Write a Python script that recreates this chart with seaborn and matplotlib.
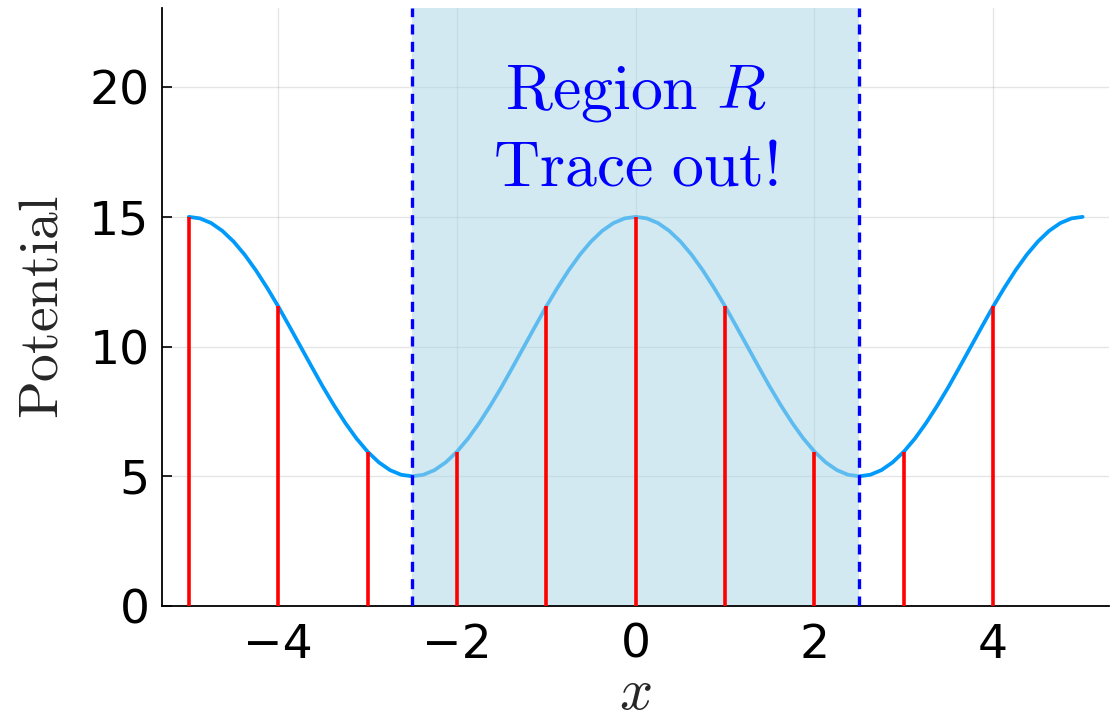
import matplotlib
matplotlib.use("Agg")
import matplotlib.pyplot as plt
import seaborn as sns
import pandas as pd
import numpy as np

# Potential curve sampled every 0.125 in x, from -5 to 5
curve_x = np.linspace(-5.0, 5.0, 81)
curve_v = [15.0, 14.94, 14.76, 14.46, 14.05, 13.54, 12.94, 12.27, 11.55, 10.78,
           10.0, 9.22, 8.45, 7.73, 7.06, 6.46, 5.95, 5.54, 5.24, 5.06, 5.0,
           5.06, 5.24, 5.54, 5.95, 6.46, 7.06, 7.73, 8.45, 9.22, 10.0,
           10.78, 11.55, 12.27, 12.94, 13.54, 14.05, 14.46, 14.76, 14.94, 15.0,
           14.94, 14.76, 14.46, 14.05, 13.54, 12.94, 12.27, 11.55, 10.78, 10.0,
           9.22, 8.45, 7.73, 7.06, 6.46, 5.95, 5.54, 5.24, 5.06, 5.0,
           5.06, 5.24, 5.54, 5.95, 6.46, 7.06, 7.73, 8.45, 9.22, 10.0,
           10.78, 11.55, 12.27, 12.94, 13.54, 14.05, 14.46, 14.76, 14.94, 15.0]

# Sample points (stems)
stem_x = [-5, -4, -3, -2, -1, 0, 1, 2, 3, 4]
stem_v = [15.0, 11.55, 5.95, 5.95, 11.55, 15.0, 11.55, 5.95, 5.95, 11.55]

# Region boundaries
region = [-2.5, 2.5]

x_ticks = [-4, -2, 0, 2, 4]
y_ticks = [0, 5, 10, 15, 20]

sns.set_theme(style="white")
plt.rcParams["mathtext.fontset"] = "cm"
plt.rcParams["font.family"] = ["DejaVu Sans"]
plt.rcParams["axes.unicode_minus"] = True

fig = plt.figure(figsize=(11.12, 7.2), dpi=100)
ax = fig.add_axes([0.1457, 0.1583, 0.852, 0.8306])

df = pd.DataFrame({"x": curve_x, "V": curve_v})
sns.lineplot(data=df, x="x", y="V", color="#009AFA", linewidth=2.7, ax=ax, zorder=2)

ax.axvspan(region[0], region[1], color="lightblue", alpha=0.55, lw=0, zorder=2.5)
ax.vlines(stem_x, 0, stem_v, color="red", linewidth=2.6, zorder=3)
for xb in region:
    ax.axvline(xb, color="blue", linewidth=2.4, linestyle=(0, (3, 2.2)), zorder=3.5)

ax.text(0, 18.35, "$\\mathrm{Region}\\ R$\n$\\mathrm{Trace\\ out!}$",
        color="blue", fontsize=46, ha="center", va="center",
        multialignment="center", linespacing=1.25, zorder=4)

ax.set_xlim(-5.3, 5.3)
ax.set_ylim(0, 23.05)
ax.set_xticks(x_ticks)
ax.set_yticks(y_ticks)
ax.grid(True, color="black", alpha=0.1, linewidth=1)
ax.set_axisbelow(True)

for s in ["top", "right"]:
    ax.spines[s].set_visible(False)
for s in ["left", "bottom"]:
    ax.spines[s].set_color("black")
    ax.spines[s].set_linewidth(1.3)

ax.tick_params(axis="both", direction="in", length=7, width=1.2, labelsize=34,
               colors="black", left=True, bottom=True)
ax.tick_params(axis="y", pad=9)
ax.tick_params(axis="x", pad=12)

ax.set_xlabel("$x$", fontsize=42, labelpad=-3)
ax.set_ylabel("$\\mathrm{Potential}$", fontsize=40, labelpad=14)

fig.savefig("out.png", dpi=100)
